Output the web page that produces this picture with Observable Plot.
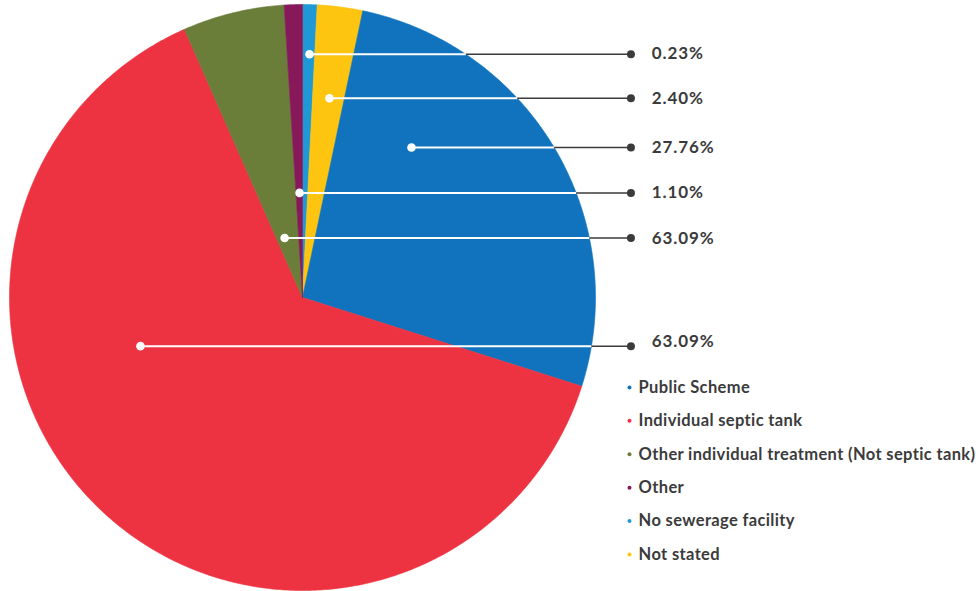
<!DOCTYPE html>
<html><head><meta charset="utf-8">
<script src="https://cdn.jsdelivr.net/npm/d3@7"></script>
<script src="https://cdn.jsdelivr.net/npm/@observablehq/plot@0.6"></script>
<style>body{margin:0;background:#fff;}</style>
</head><body><div id="chart"></div>
<script>
// Categories (legend order) and slice sizes (percent of circle)
const categories = ["Public Scheme", "Individual septic tank", "Other individual treatment (Not septic tank)", "Other", "No sewerage facility", "Not stated"];
const shares = [26.6, 63.5, 5.6, 1.0, 0.8, 2.5];
const colors = ["#1173BD", "#ED3342", "#6A7E3A", "#87195A", "#1F98D6", "#FEC510"];
// Clockwise drawing order starting at 12 o'clock
const pieOrder = ["No sewerage facility", "Not stated", "Public Scheme", "Individual septic tank", "Other individual treatment (Not septic tank)", "Other"];
// Callout labels as printed on the chart
const labelTexts = ["0.23%", "2.40%", "27.76%", "1.10%", "63.09%", "63.09%"];
const labelCategories = ["No sewerage facility", "Not stated", "Public Scheme", "Other", "Other individual treatment (Not septic tank)", "Individual septic tank"];
// Callout anchors in pie units (radius = 1)
const labelRows = [0.830, 0.680, 0.512, 0.357, 0.203, -0.166];
const labelTextRows = [0.832, 0.678, 0.512, 0.358, 0.202, -0.150];
const labelInnerX = [0.024, 0.092, 0.372, -0.010, -0.061, -0.553];

const OUTER_X = 1.121, TEXT_X = 1.192, LEG_DOT_X = 1.116, LEG_TEXT_X = 1.147;
const LEG_TOP = -0.307, LEG_STEP = -0.114;
const ink = "#3b3b3b";

// Build slice polygons from data
const total = d3.sum(shares);
const slices = [];
let acc = 0;
for (const c of pieOrder) {
  const v = shares[categories.indexOf(c)];
  const a0 = acc / total * 2 * Math.PI, a1 = (acc + v) / total * 2 * Math.PI;
  acc += v;
  const n = Math.max(2, Math.ceil((a1 - a0) / (Math.PI / 360)));
  slices.push({category: c, x: 0, y: 0});
  for (let i = 0; i <= n; i++) {
    const a = a0 + (a1 - a0) * i / n;
    slices.push({category: c, x: Math.sin(a), y: Math.cos(a)});
  }
  slices.push({category: c, x: 0, y: 0});
}

const labels = labelTexts.map((t, i) => ({
  text: t, category: labelCategories[i],
  row: labelRows[i], textRow: labelTextRows[i],
  inner: labelInnerX[i], edge: Math.sqrt(1 - labelRows[i] ** 2)
}));
const legend = categories.map((c, i) => ({category: c, y: LEG_TOP + i * LEG_STEP}));

const chart = Plot.plot({
  width: 978, height: 591,
  margin: 0,
  style: {fontFamily: "Lato, 'Open Sans', sans-serif", background: "#fff"},
  x: {domain: [-1, 1], range: [9, 595], axis: null},
  y: {domain: [-1, 1], range: [590, 4], axis: null},
  color: {domain: categories, range: colors},
  marks: [
    Plot.line(slices, {x: "x", y: "y", z: "category", fill: "category", stroke: "category", strokeWidth: 0.6, curve: "linear"}),
    Plot.link(labels, {x1: "inner", x2: "edge", y1: "row", y2: "row", stroke: "#fff", strokeWidth: 2}),
    Plot.link(labels, {x1: "edge", x2: () => OUTER_X, y1: "row", y2: "row", stroke: ink, strokeWidth: 1.5}),
    Plot.dot(labels, {x: "inner", y: "row", r: 4.3, fill: "#fff"}),
    Plot.dot(labels, {x: () => OUTER_X, y: "row", r: 4, fill: ink}),
    Plot.text(labels, {x: () => TEXT_X, y: "textRow", text: "text", textAnchor: "start", fontSize: 17, fontWeight: 700, fill: ink}),
    Plot.dot(legend, {x: () => LEG_DOT_X, y: "y", r: 2, fill: "category"}),
    Plot.text(legend, {x: () => LEG_TEXT_X, y: "y", text: "category", textAnchor: "start", fontSize: 16.5, fontWeight: 700, fill: ink})
  ]
});
const textGroups = d3.select(chart).selectAll('g[aria-label="text"]').nodes();
if (textGroups[0]) textGroups[0].style.letterSpacing = "0.9px";
if (textGroups[1]) textGroups[1].style.letterSpacing = "0.36px";
document.getElementById("chart").append(chart);
</script>
</body></html>
